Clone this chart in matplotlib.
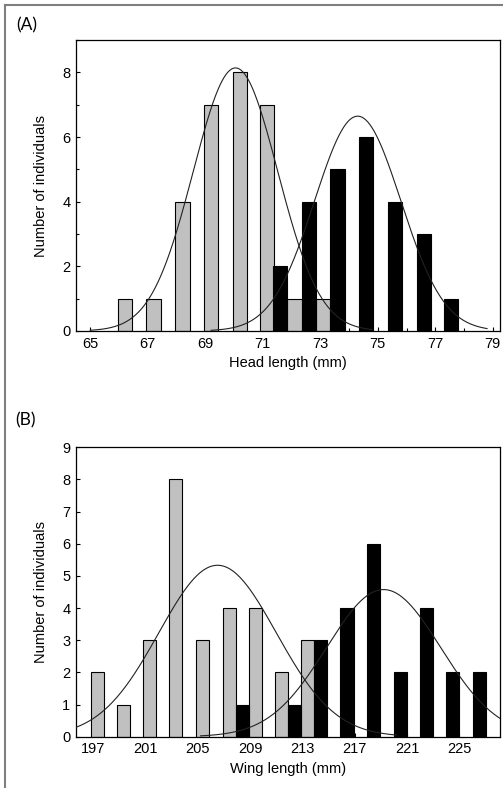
import numpy as np
import matplotlib
matplotlib.use("Agg")
import matplotlib.pyplot as plt
from matplotlib.lines import Line2D
from matplotlib.ticker import MultipleLocator

plt.rcParams['font.family'] = ['Liberation Sans', 'DejaVu Sans']

# (A) head length
head_gray_x = [66.2, 67.2, 68.2, 69.2, 70.2, 71.15, 72.1, 73.1]
head_gray_n = [1, 1, 4, 7, 8, 7, 1, 1]
head_black_x = [71.6, 72.6, 73.6, 74.6, 75.6, 76.6, 77.55]
head_black_n = [2, 4, 5, 6, 4, 3, 1]
# fitted normal curves: mean, sd, total n, bin width, drawn range
head_gray_fit = (70.05, 1.47, 30, 1.0, 65.0, 74.8)
head_black_fit = (74.3, 1.50, 25, 1.0, 69.2, 78.8)

# (B) wing length
wing_gray_x = [197.3, 199.3, 201.3, 203.3, 205.35, 207.4, 209.4, 211.4, 213.4]
wing_gray_n = [2, 1, 3, 8, 3, 4, 4, 2, 3]
wing_black_x = [208.4, 212.4, 214.4, 216.4, 218.4, 220.5, 222.5, 224.5, 226.5]
wing_black_n = [1, 1, 3, 4, 6, 2, 4, 2, 2]
wing_gray_fit = (206.5, 4.49, 30, 2.0, 195.0, 220.2)
wing_black_fit = (219.2, 4.36, 25, 2.0, 205.2, 229.0)


def normal_curve(ax, fit):
    mu, sd, n, bw, lo, hi = fit
    x = np.linspace(lo, hi, 300)
    y = n * bw / (sd * np.sqrt(2 * np.pi)) * np.exp(-(x - mu) ** 2 / (2 * sd ** 2))
    ax.plot(x, y, color='#222222', lw=0.8, zorder=3)


def style_axes(ax):
    ax.tick_params(direction='in', length=3, width=0.8, labelsize=10.5, pad=4)
    ax.tick_params(which='minor', direction='in', length=2, width=0.8)
    for s in ax.spines.values():
        s.set_linewidth(0.9)


fig = plt.figure(figsize=(5.03, 7.88), dpi=100)

axA = fig.add_axes([0.151, 0.580, 0.843, 0.369])
axA.bar(head_gray_x, head_gray_n, width=0.5, color='#c0c0c0', edgecolor='black', lw=0.8, zorder=2)
axA.bar(head_black_x, head_black_n, width=0.5, color='black', edgecolor='black', lw=0.8, zorder=2)
normal_curve(axA, head_gray_fit)
normal_curve(axA, head_black_fit)
axA.set_xlim(64.5, 79.25)
axA.set_ylim(0, 9)
axA.set_xticks(range(65, 80, 2))
axA.xaxis.set_minor_locator(MultipleLocator(1))
axA.set_yticks([0, 2, 4, 6, 8])
axA.yaxis.set_minor_locator(MultipleLocator(1))
axA.set_xlabel('Head length (mm)', fontsize=10.5, labelpad=4)
axA.set_ylabel('Number of individuals', fontsize=10.5, labelpad=10)
style_axes(axA)

axB = fig.add_axes([0.151, 0.0651, 0.843, 0.3673])
axB.bar(wing_gray_x, wing_gray_n, width=1.0, color='#c0c0c0', edgecolor='black', lw=0.8, zorder=2)
axB.bar(wing_black_x, wing_black_n, width=1.0, color='black', edgecolor='black', lw=0.8, zorder=2)
normal_curve(axB, wing_gray_fit)
normal_curve(axB, wing_black_fit)
axB.set_xlim(195.67, 228.1)
axB.set_ylim(0, 9)
axB.set_xticks(range(197, 228, 4))
axB.set_yticks(range(0, 10))
axB.set_xlabel('Wing length (mm)', fontsize=10.5, labelpad=4)
axB.set_ylabel('Number of individuals', fontsize=10.5, labelpad=10)
style_axes(axB)

fig.text(0.033, 0.968, '(A)', fontsize=12.5, family=['Lato', 'DejaVu Sans'], va='center')
fig.text(0.031, 0.467, '(B)', fontsize=12.5, family=['Lato', 'DejaVu Sans'], va='center')

# outer frame (left and top edges)
fig.add_artist(Line2D([0.0099, 0.0099], [0.0, 1 - 5 / 788], transform=fig.transFigure, color='#7f7f7f', lw=1.5))
fig.add_artist(Line2D([0.0099, 1.0], [1 - 5 / 788, 1 - 5 / 788], transform=fig.transFigure, color='#7f7f7f', lw=1.5))

fig.savefig('out.png', dpi=100)
